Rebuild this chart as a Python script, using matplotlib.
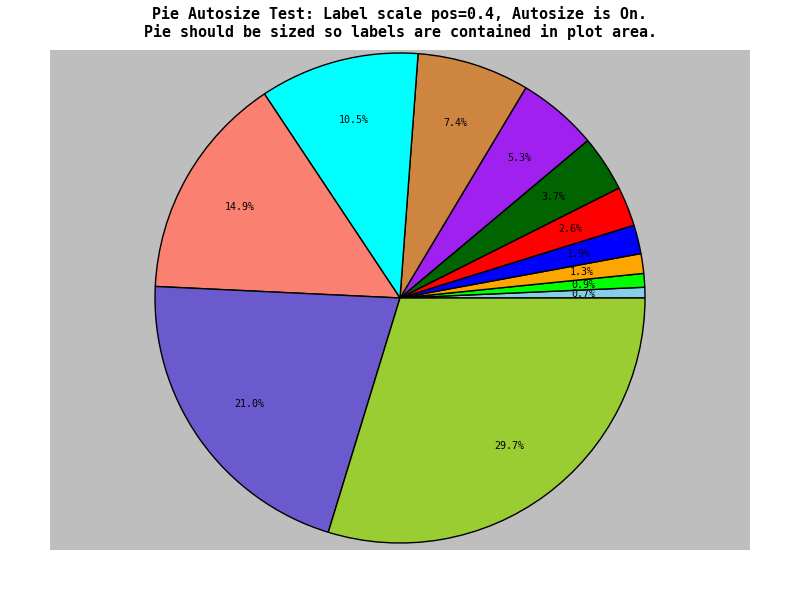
import matplotlib
matplotlib.use("Agg")
import matplotlib.pyplot as plt
from matplotlib.patches import Rectangle
import numpy as np

# Slice shares in percent, drawn counter-clockwise from 3 o'clock
shares = [0.7, 0.9, 1.3, 1.9, 2.6, 3.7, 5.3, 7.4, 10.5, 14.9, 21.0, 29.7]
colors = ["#87ceeb", "#00ff00", "#ffa500", "#0000ff", "#ff0000", "#006400",
          "#a020f0", "#cd853f", "#00ffff", "#fa8072", "#6a5acd", "#9acd32"]
title_lines = ["Pie Autosize Test: Label scale pos=0.4, Autosize is On.",
               "Pie should be sized so labels are contained in plot area."]

W, H = 800, 600
fig = plt.figure(figsize=(W / 100, H / 100), dpi=100)
fig.patch.set_facecolor("white")

# plot area in pixels
px0, py0, px1, py1 = 50, 50, 750, 550
fig.patches.append(Rectangle((px0 / W, 1 - py1 / H), (px1 - px0) / W,
                             (py1 - py0) / H, transform=fig.transFigure,
                             facecolor="#bebebe", edgecolor="none", zorder=-5))

ax = fig.add_axes([px0 / W, 1 - py1 / H, (px1 - px0) / W, (py1 - py0) / H],
                  zorder=1)
ax.patch.set_visible(False)

R = 245.0           # pie radius in pixels
cx, cy = 400, 298   # pie centre in pixels (from top)

wedges, _ = ax.pie(shares, colors=colors, startangle=0, counterclock=True,
                   radius=1.0, normalize=True,
                   wedgeprops=dict(edgecolor="black", linewidth=1.0))

total = sum(shares)
start = 0.0
for v in shares:
    mid = np.deg2rad((start + v / 2) / total * 360.0)
    r = 0.75
    ax.text(r * np.cos(mid), r * np.sin(mid), f"{v:.1f}%",
            ha="center", va="center", fontsize=7.2,
            family="DejaVu Sans Mono", color="black")
    start += v

ax.set_aspect("equal")
ax.set_xlim(-(cx - px0) / R, (px1 - cx) / R)
ax.set_ylim(-(py1 - cy) / R, (cy - py0) / R)
ax.set_axis_off()

fig.text(0.5, 1 - 14 / H, title_lines[0], ha="center", va="center",
         fontsize=10.8, family="DejaVu Sans Mono", fontweight="bold")
fig.text(0.5, 1 - 32 / H, title_lines[1], ha="center", va="center",
         fontsize=10.8, family="DejaVu Sans Mono", fontweight="bold")

fig.savefig("out.png", dpi=100, facecolor="white")
